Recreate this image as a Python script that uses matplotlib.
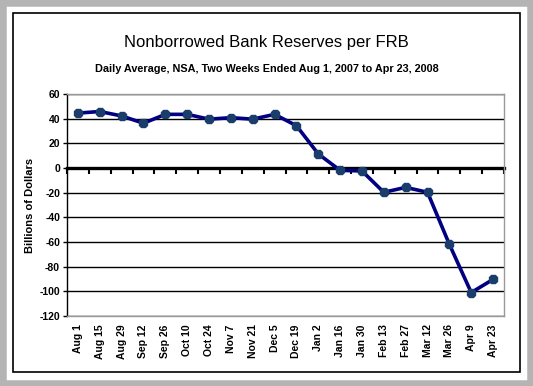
import matplotlib
matplotlib.use("Agg")
import matplotlib.pyplot as plt
from matplotlib.patches import Rectangle
import numpy as np

categories = ["Aug 1", "Aug 15", "Aug 29", "Sep 12", "Sep 26", "Oct 10", "Oct 24",
              "Nov 7", "Nov 21", "Dec 5", "Dec 19", "Jan 2", "Jan 16", "Jan 30",
              "Feb 13", "Feb 27", "Mar 12", "Mar 26", "Apr 9", "Apr 23"]
values = [44.5, 45.8, 42.2, 36.3, 43.5, 43.5, 39.6, 40.8, 39.6, 43.5,
          34.3, 11.4, -1.9, -2.4, -19.7, -15.7, -19.7, -61.9, -101.0, -90.3]
yticks = [60, 40, 20, 0, -20, -40, -60, -80, -100, -120]

plt.rcParams['font.family'] = ['Liberation Sans', 'DejaVu Sans']

fig = plt.figure(figsize=(5.33, 3.86), dpi=100)
fig.patch.set_facecolor('white')

W, H = 533, 386
# outer gray frame
fig.patches.append(Rectangle((0, 0), 1, 1, transform=fig.transFigure,
                             facecolor='none', edgecolor='#b4b4b4', linewidth=9, zorder=0))
# inner black border
fig.patches.append(Rectangle((13 / W, 1 - 372 / H), (520 - 13) / W, (372 - 13) / H,
                             transform=fig.transFigure, facecolor='none',
                             edgecolor='black', linewidth=1.2, zorder=1))

ax = fig.add_axes([67 / W, 1 - 316 / H, (504 - 67) / W, (316 - 94) / H])
n = len(categories)
x = np.arange(n)
ax.plot(x, values, color='#000080', linewidth=2.6, zorder=3)
ax.plot(x, values, linestyle='none', marker='8', markersize=6,
        markerfacecolor='#1a3d6b', markeredgecolor='#1a3d6b', zorder=4)

ax.set_xlim(-0.5, n - 0.5)
ax.set_ylim(-120, 60)
ax.set_yticks(yticks)
ax.set_yticklabels([str(v) for v in yticks], fontsize=7.5, fontweight='bold')
ax.yaxis.grid(True, color='black', linewidth=1.0)
ax.set_axisbelow(True)
ax.tick_params(axis='y', direction='out', length=3, width=1, pad=2, color='black')

ax.set_xticks(x)
ax.set_xticklabels(categories, rotation=90, fontsize=7.5, fontweight='bold',
                   va='top', ha='center')
ax.tick_params(axis='x', length=0, pad=6)

for s in ['top', 'right', 'bottom']:
    ax.spines[s].set_color('#999999')
    ax.spines[s].set_linewidth(1.0)
ax.spines['left'].set_color('black')
ax.spines['left'].set_linewidth(1.0)

# category axis crossing at zero
sec = ax.secondary_xaxis(120 / 180)
sec.set_xticks(np.arange(-0.5, n, 1.0))
sec.set_xticklabels([])
sec.tick_params(direction='in', length=4, width=1.5, color='black')
for s in sec.spines.values():
    s.set_linewidth(2.4)
    s.set_color('black')
    s.set_zorder(5)

ax.set_ylabel('Billions of Dollars', fontsize=8, fontweight='bold', labelpad=3)

fig.text(0.5, 1 - 43 / H, 'Nonborrowed Bank Reserves per FRB', ha='center', va='center',
         fontsize=12)
fig.text(0.5, 1 - 69 / H, 'Daily Average, NSA, Two Weeks Ended Aug 1, 2007 to Apr 23, 2008',
         ha='center', va='center', fontsize=7.8, fontweight='bold')

fig.savefig('out.png', dpi=100)
